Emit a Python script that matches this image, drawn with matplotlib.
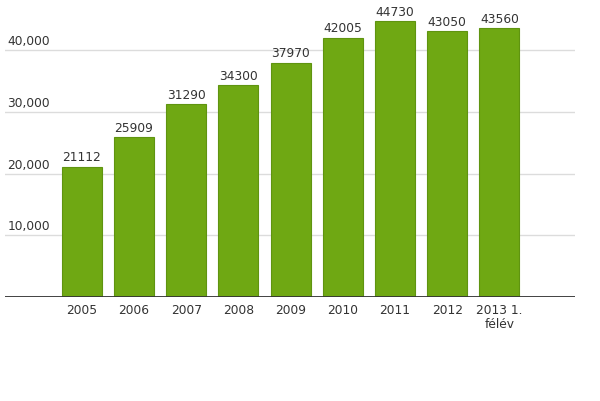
import matplotlib.pyplot as plt
import matplotlib.transforms as mtransforms

years = ['2005', '2006', '2007', '2008', '2009', '2010', '2011', '2012', '2013 1.\nfélév']
values = [21112, 25909, 31290, 34300, 37970, 42005, 44730, 43050, 43560]
y_ticks = [10000, 20000, 30000, 40000]

fig = plt.figure(figsize=(6, 4.02), dpi=100)
ax = fig.add_axes([5 / 600, 104 / 402, 570 / 600, 298 / 402])

x = list(range(len(years)))
ax.bar(x, values, width=0.766, color='#6fa813', edgecolor='#5f9410', linewidth=0.8, zorder=2)

ax.set_xlim(-1.471, 9.448)
ax.set_ylim(0, 48300)

for t in y_ticks:
    ax.axhline(t, color='#dcdcdc', linewidth=1, zorder=1)

trans = mtransforms.blended_transform_factory(ax.transAxes, ax.transData)
for t in y_ticks:
    ax.text(0.004, t + 500, f'{t:,}', transform=trans, ha='left', va='bottom',
            fontsize=8.8, color='#333333')

for xi, v in zip(x, values):
    ax.text(xi, v + 550, str(v), ha='center', va='bottom', fontsize=8.8, color='#333333')

ax.axhline(0, color='#333333', linewidth=1.3, zorder=3)

ax.set_xticks(x)
ax.set_xticklabels(years, fontsize=8.8, color='#333333', linespacing=1.1)
ax.tick_params(axis='x', length=0, pad=4)
ax.set_yticks([])
for s in ax.spines.values():
    s.set_visible(False)

fig.savefig('out.png', dpi=100)
